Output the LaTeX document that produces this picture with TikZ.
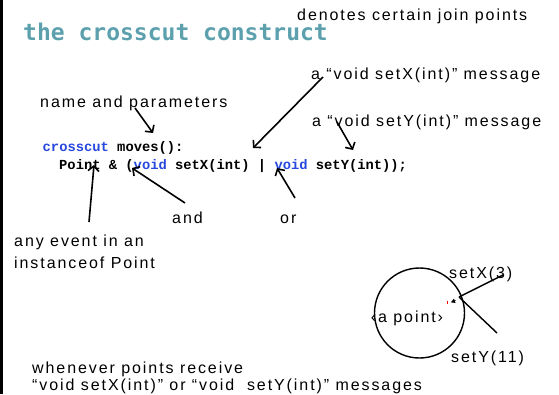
\documentclass[tikz,border=0pt]{standalone}
\usepackage{fontspec}
\setmainfont{Liberation Sans}[LetterSpace=12]
\setmonofont{Liberation Mono}
\newfontfamily\titlefont{DejaVu Sans Mono}
\usepackage{tikz}
\usetikzlibrary{arrows.meta,positioning}
\definecolor{titleTeal}{RGB}{92,160,174}
\definecolor{keywordBlue}{RGB}{38,72,222}

\begin{document}
\begin{tikzpicture}[
    x=1pt, y=-1pt,
    note/.style={anchor=base west, inner sep=0pt, font=\fontsize{16}{19}\selectfont},
    code/.style={anchor=base west, inner sep=0pt, font=\fontsize{13.8}{17}\selectfont\ttfamily\bfseries},
    arrow/.style={-{Straight Barb[length=5pt,width=11pt]}, line width=1.6pt},
    kw/.style={text=keywordBlue}
]
    \useasboundingbox (0,0) rectangle (559,394);

    % Frame on the left
    \draw[line width=2.5pt] (1.5,0) -- (1.5,394);

    % Title
    \node[anchor=base west, inner sep=0pt, text=titleTeal,
          font=\fontsize{23}{28}\selectfont\titlefont\bfseries] (title) at (23,40) {the crosscut construct};

    % The crosscut declaration
    \node[code] (decl) at (42.5,151) {\textcolor{keywordBlue}{crosscut} moves():};
    \node[code] (body) at (59,169) {Point \& (\textcolor{keywordBlue}{void} setX(int) | \textcolor{keywordBlue}{void} setY(int));};

    % Annotations
    \node[note] (joins) at (297,20) {denotes certain join points};
    \node[note] (msgX) at (311,79) {a “void setX(int)” message};
    \node[note] (params) at (40,107) {name and parameters};
    \node[note] (msgY) at (312,126) {a “void setY(int)” message};
    \node[note] (andLbl) at (172,223) {and};
    \node[note] (orLbl) at (280,223) {or};
    \node[note] (event) at (14,246) {any event in an};
    \node[note] (eventB) at (14,268) {instanceof Point};
    \node[note] (whenever) at (32,373) {whenever points receive};
    \node[note] (wheneverB) at (32,390) {“void setX(int)” or “void\ \ setY(int)” messages};

    % Arrow ends
    \coordinate (paramsTail) at (135,108);
    \coordinate (paramsHit) at (153,133);
    \coordinate (msgXTail) at (323,77);
    \coordinate (msgXHit) at (253,148);
    \coordinate (msgYTail) at (337,122);
    \coordinate (msgYHit) at (353,150);
    \coordinate (eventTail) at (89,222);
    \coordinate (eventHit) at (94,165);
    \coordinate (andTail) at (185,203);
    \coordinate (andHit) at (132,168);
    \coordinate (orTail) at (295,198);
    \coordinate (orHit) at (277,168);

    \draw[arrow] (paramsTail) -- (paramsHit);
    \draw[arrow] (msgXTail) -- (msgXHit);
    \draw[arrow] (msgYTail) -- (msgYHit);
    \draw[arrow] (eventTail) -- (eventHit);
    \draw[arrow] (andTail) -- (andHit);
    \draw[arrow] (orTail) -- (orHit);

    % A point receiving messages
    \node[draw, circle, minimum size=90pt, line width=1.4pt] (pt) at (419.5,313) {};
    \node[note, anchor=base] (ptLbl) at (407,322) {‹a point›};
    \node[note] (setXLbl) at (449,278) {setX(3)};
    \node[note] (setYLbl) at (451,362) {setY(11)};
    \coordinate (hit) at (459,297);
    \coordinate (xEnd) at (503,275);
    \coordinate (yEnd) at (497,333);
    \coordinate (tipTail) at (455.5,300.5);
    \coordinate (tip) at (450.5,302.5);
    \coordinate (tickTop) at (447.5,300.5);
    \coordinate (tickBot) at (447.5,304);
    \draw[line width=1.4pt] (hit) -- (xEnd);
    \draw[line width=1.4pt] (hit) -- (yEnd);
    \draw[-{Latex[length=4.5pt,width=5pt]}, line width=0.9pt] (tipTail) -- (tip);
    \draw[red, line width=1.2pt] (tickTop) -- (tickBot);
\end{tikzpicture}
\end{document}
